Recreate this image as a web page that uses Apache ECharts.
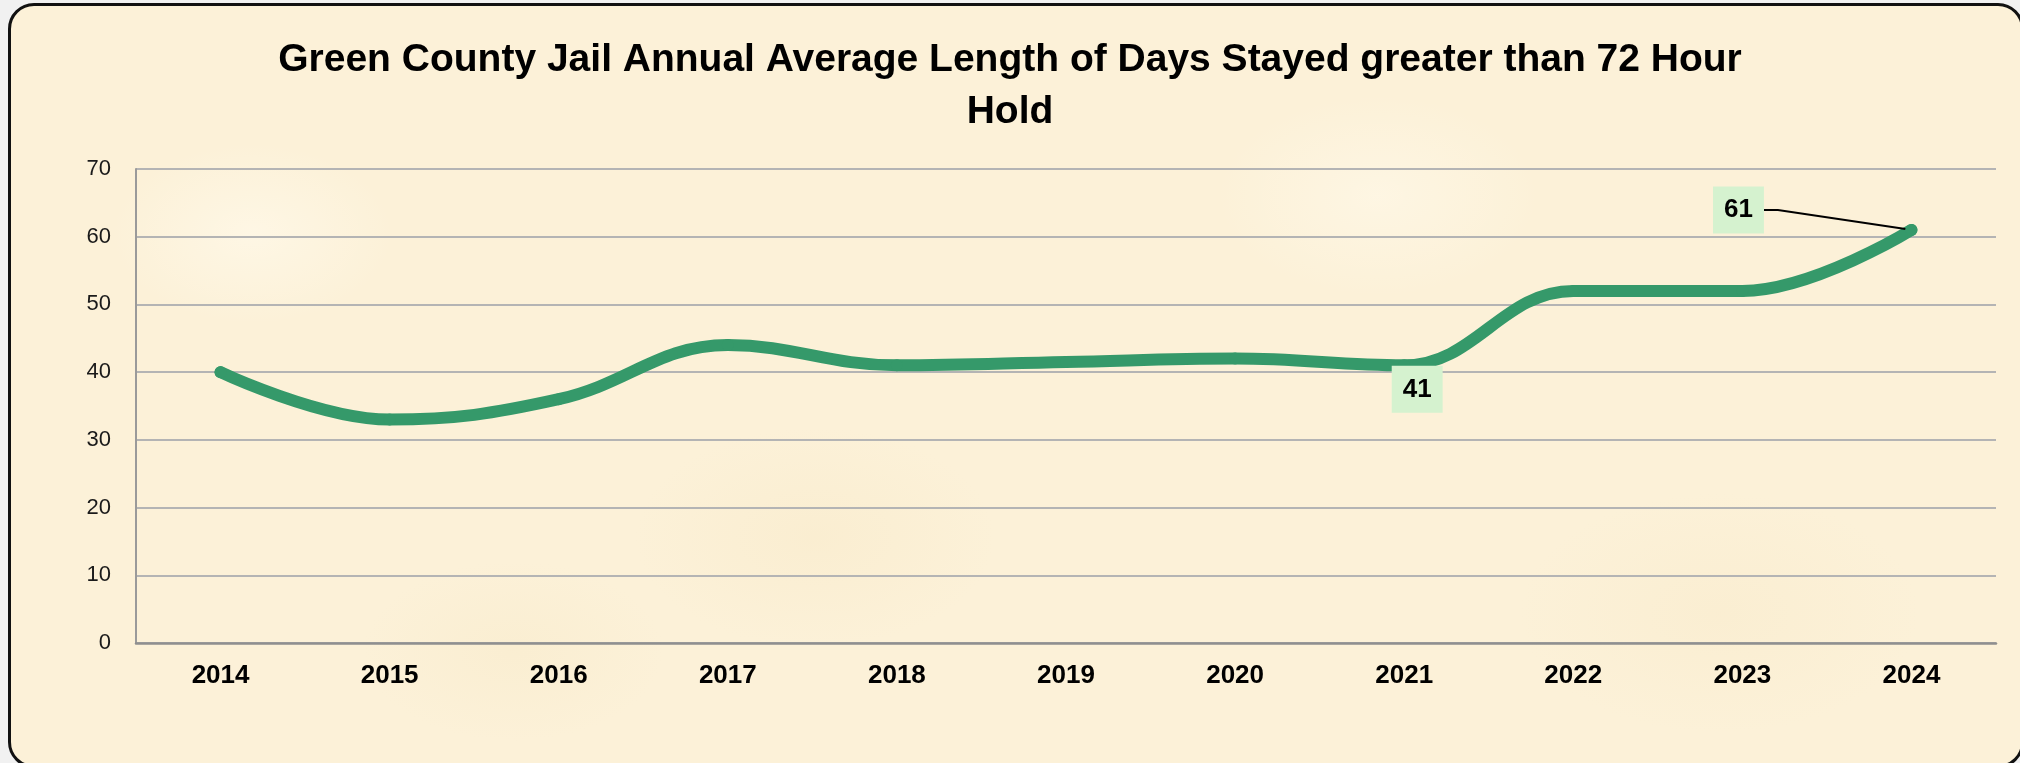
<!DOCTYPE html>
<html>
<head>
<meta charset="utf-8">
<title>Green County Jail</title>
<script src="https://cdn.jsdelivr.net/npm/echarts@6/dist/echarts.min.js"></script>
<style>
  html, body { margin: 0; padding: 0; width: 2020px; height: 763px; overflow: hidden; background: #f1f1f1; }
  .frame {
    position: absolute; left: 8px; top: 3px; width: 2016px; height: 765px; box-sizing: border-box;
    border: 3px solid #111; border-radius: 26px;
    background-color: #fcf1d8;
    background-image:
      radial-gradient(ellipse 140px 90px at 12% 30%, rgba(255, 249, 234, 0.7), transparent),
      radial-gradient(ellipse 180px 110px at 40% 70%, rgba(247, 232, 198, 0.4), transparent),
      radial-gradient(ellipse 160px 100px at 68% 25%, rgba(255, 249, 234, 0.6), transparent),
      radial-gradient(ellipse 200px 120px at 85% 80%, rgba(247, 232, 198, 0.35), transparent),
      radial-gradient(ellipse 150px 90px at 25% 85%, rgba(247, 233, 200, 0.4), transparent);
  }
  .chart { position: absolute; left: 0; top: 0; width: 2020px; height: 763px; }
</style>
</head>
<body>
<div class="frame"></div>
<div class="chart" id="main"></div>
<script>
(function () {
  var years = ["2014", "2015", "2016", "2017", "2018", "2019", "2020", "2021", "2022", "2023", "2024"];
  var avgDays = [40, 33, 36, 44, 41, 41.5, 42, 41, 52, 52, 61];
  var labelled = ["2021", "2024"];

  var green = "#35996a";

  var data = years.map(function (y, i) {
    if (labelled.indexOf(y) < 0) return avgDays[i];
    var item = {
      value: avgDays[i],
      label: {
        show: true,
        position: "inside",
        color: "#000",
        fontFamily: "Liberation Sans",
        fontWeight: "bold",
        fontSize: 26,
        backgroundColor: "#d5f2cf",
        padding: [11, 11, 10, 11],
      },
    };
    if (y === "2024") {
      item.labelLine = { show: true, length2: 14, lineStyle: { color: "#000", width: 2 } };
    }
    return item;
  });

  var chart = echarts.init(document.getElementById("main"));
  var option = {
    backgroundColor: "transparent",
    title: {
      text: "Green County Jail Annual Average Length of Days Stayed greater than 72 Hour\nHold",
      left: "center",
      top: 29,
      textStyle: {
        fontFamily: "Liberation Sans",
        fontWeight: "bold",
        fontSize: 39,
        lineHeight: 52,
        color: "#000",
      },
    },
    grid: { left: 136, right: 24, top: 169, bottom: 120 },
    xAxis: {
      type: "category",
      data: years,
      boundaryGap: true,
      axisLine: { lineStyle: { color: "#8f8f8f", width: 2.5 } },
      axisTick: { show: false },
      axisLabel: {
        margin: 20,
        color: "#000",
        fontFamily: "Liberation Sans",
        fontWeight: "bold",
        fontSize: 26,
      },
    },
    yAxis: {
      type: "value",
      min: 0,
      max: 70,
      interval: 10,
      axisLine: { show: true, lineStyle: { color: "#9a9a9a", width: 2 } },
      axisTick: { show: false },
      splitLine: { lineStyle: { color: "#b4b4b4", width: 2 } },
      axisLabel: {
        margin: 25,
        color: "#1a1a1a",
        fontFamily: "Liberation Sans",
        fontSize: 22,
      },
    },
    series: [
      {
        type: "line",
        data: data,
        smooth: 0.4,
        symbol: "circle",
        symbolSize: 12,
        itemStyle: { color: green },
        lineStyle: { color: green, width: 12, cap: "round" },
        labelLayout: function (params) {
          var y = years[params.dataIndex];
          if (y === "2021") return { dx: 13, dy: 24 };
          if (y === "2024") return { dx: -173, dy: -20 };
        },
        animation: false,
      },
    ],
  };
  chart.setOption(option);

  window.addEventListener("resize", function () {
    chart.resize();
  });
})();
</script>
</body>
</html>
